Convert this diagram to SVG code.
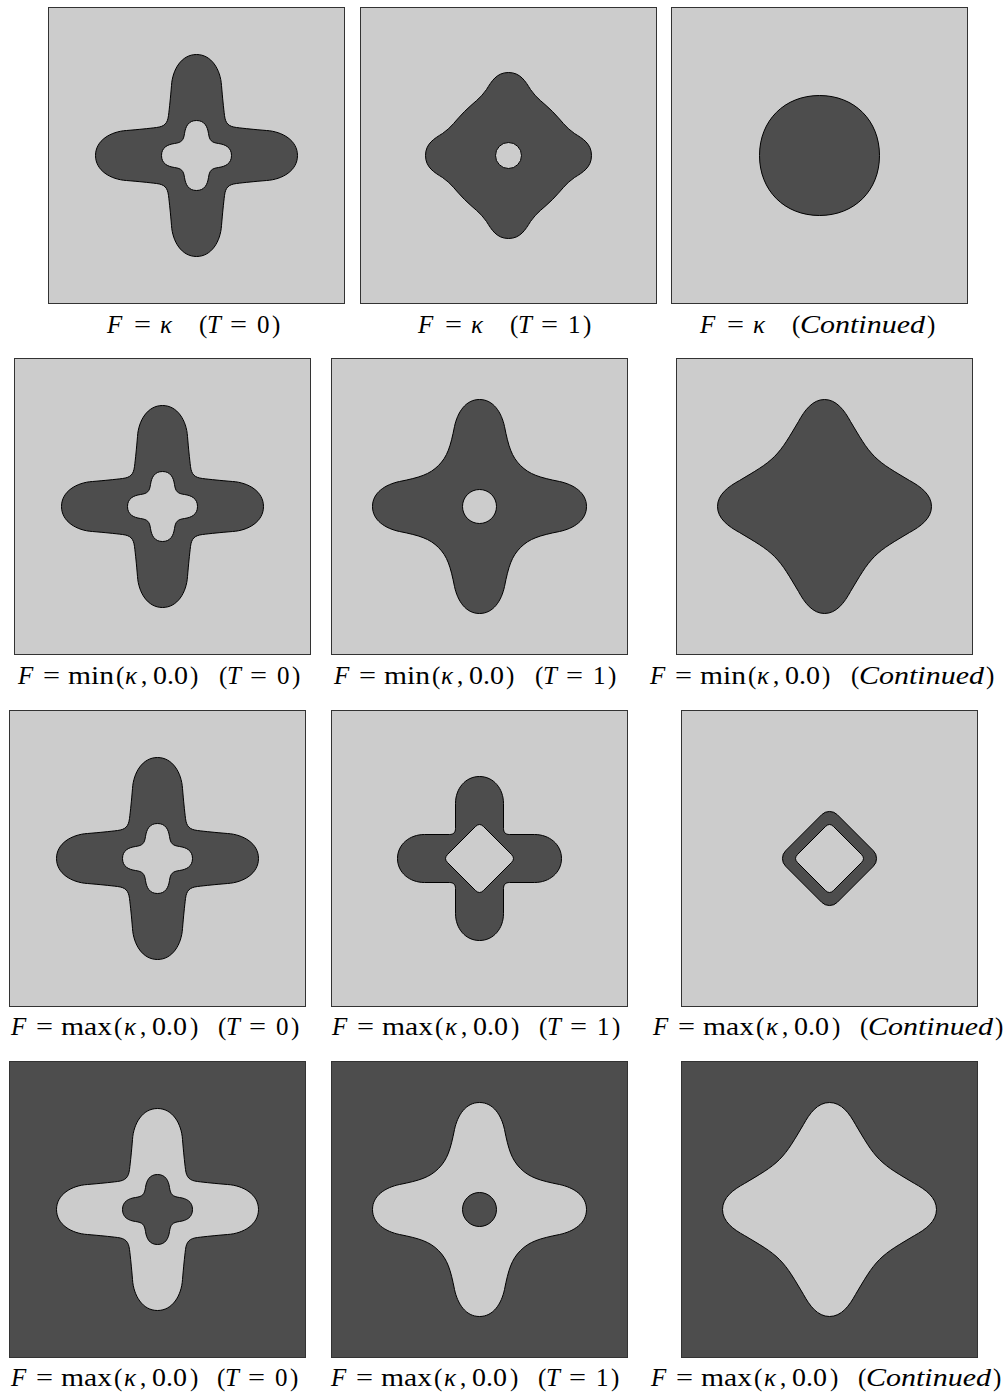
<svg xmlns="http://www.w3.org/2000/svg" width="1008" height="1395" viewBox="0 0 1008 1395">
<style>
.bg{fill:#ffffff}
.pl{fill:#cccccc;stroke:#333333;stroke-width:1}
.pd{fill:#4d4d4d;stroke:#333333;stroke-width:1}
.sd{fill:#4d4d4d;stroke:#000000;stroke-width:1;fill-rule:evenodd}
.sl{fill:#cccccc;stroke:#000000;stroke-width:1;fill-rule:evenodd}
.lab{font-family:"Liberation Serif","Times New Roman",serif;font-size:25px;fill:#000000}
.it{font-style:italic}
</style>
<defs>
<path id="shA" d="M 0,-101 C 15,-101 24,-86 25,-70 C 26,-58 27,-48 28,-40 C 29,-32 32,-29 40,-28 C 48,-27 58,-26 70,-25 C 86,-24 101,-15 101,0 C 101,15 86,24 70,25 C 58,26 48,27 40,28 C 32,29 29,32 28,40 C 27,48 26,58 25,70 C 24,86 15,101 0,101 C -15,101 -24,86 -25,70 C -26,58 -27,48 -28,40 C -29,32 -32,29 -40,28 C -48,27 -58,26 -70,25 C -86,24 -101,15 -101,0 C -101,-15 -86,-24 -70,-25 C -58,-26 -48,-27 -40,-28 C -32,-29 -29,-32 -28,-40 C -27,-48 -26,-58 -25,-70 C -24,-86 -15,-101 0,-101 Z M 0,-35 C 8,-35 11,-29 12,-22 C 13,-15 15,-13 22,-12 C 29,-11 35,-8 35,0 C 35,8 29,11 22,12 C 15,13 13,15 12,22 C 11,29 8,35 0,35 C -8,35 -11,29 -12,22 C -13,15 -15,13 -22,12 C -29,11 -35,8 -35,0 C -35,-8 -29,-11 -22,-12 C -15,-13 -13,-15 -12,-22 C -11,-29 -8,-35 0,-35 Z"/>
<path id="shB" d="M 0,-83 C 12,-83 17,-74 22,-66 C 28,-57 35,-53 44,-44 C 53,-35 57,-28 66,-22 C 74,-17 83,-12 83,0 C 83,12 74,17 66,22 C 57,28 53,35 44,44 C 35,53 28,57 22,66 C 17,74 12,83 0,83 C -12,83 -17,74 -22,66 C -28,57 -35,53 -44,44 C -53,35 -57,28 -66,22 C -74,17 -83,12 -83,0 C -83,-12 -74,-17 -66,-22 C -57,-28 -53,-35 -44,-44 C -35,-53 -28,-57 -22,-66 C -17,-74 -12,-83 0,-83 Z M 0,-13 A 13 13 0 1 0 0,13 A 13 13 0 1 0 0,-13 Z"/>
<path id="shC" d="M 0,-60 C 35,-60 60,-35 60,0 C 60,35 35,60 0,60 C -35,60 -60,35 -60,0 C -60,-35 -35,-60 0,-60 Z"/>
<path id="shD" d="M 0,-107 C 14,-107 22,-94 25,-80 C 29,-60 32,-50 41,-41 C 50,-32 60,-29 80,-25 C 94,-22 107,-14 107,0 C 107,14 94,22 80,25 C 60,29 50,32 41,41 C 32,50 29,60 25,80 C 22,94 14,107 0,107 C -14,107 -22,94 -25,80 C -29,60 -32,50 -41,41 C -50,32 -60,29 -80,25 C -94,22 -107,14 -107,0 C -107,-14 -94,-22 -80,-25 C -60,-29 -50,-32 -41,-41 C -32,-50 -29,-60 -25,-80 C -22,-94 -14,-107 0,-107 Z M 0,-17 A 17 17 0 1 0 0,17 A 17 17 0 1 0 0,-17 Z"/>
<path id="shE" d="M 0,-107 C 12,-107 20,-96 26,-85 C 35,-70 41,-59 50,-50 C 59,-41 70,-35 85,-26 C 96,-20 107,-12 107,0 C 107,12 96,20 85,26 C 70,35 59,41 50,50 C 41,59 35,70 26,85 C 20,96 12,107 0,107 C -12,107 -20,96 -26,85 C -35,70 -41,59 -50,50 C -59,41 -70,35 -85,26 C -96,20 -107,12 -107,0 C -107,-12 -96,-20 -85,-26 C -70,-35 -59,-41 -50,-50 C -41,-59 -35,-70 -26,-85 C -20,-96 -12,-107 0,-107 Z"/>
<path id="shF" d="M 0,-82 C 14,-82 24,-70 24,-55 L 24,-30 C 24,-26 26,-24 30,-24 L 55,-24 C 70,-24 82,-14 82,0 C 82,14 70,24 55,24 L 30,24 C 26,24 24,26 24,30 L 24,55 C 24,70 14,82 0,82 C -14,82 -24,70 -24,55 L -24,30 C -24,26 -26,24 -30,24 L -55,24 C -70,24 -82,14 -82,0 C -82,-14 -70,-24 -55,-24 L -30,-24 C -26,-24 -24,-26 -24,-30 L -24,-55 C -24,-70 -14,-82 0,-82 Z M -4,-32 Q 0,-36 4,-32 L 32,-4 Q 36,0 32,4 L 4,32 Q 0,36 -4,32 L -32,4 Q -36,0 -32,-4 Z"/>
<path id="shG" d="M -7.8,-43.8 A 11 11 0 0 1 7.8,-43.8 L 43.8,-7.8 A 11 11 0 0 1 43.8,7.8 L 7.8,43.8 A 11 11 0 0 1 -7.8,43.8 L -43.8,7.8 A 11 11 0 0 1 -43.8,-7.8 Z M -4,-32 Q 0,-36 4,-32 L 32,-4 Q 36,0 32,4 L 4,32 Q 0,36 -4,32 L -32,4 Q -36,0 -32,-4 Z"/>
</defs>
<rect class="bg" x="0" y="0" width="1008" height="1395"/>

<g id="r1p1">
<rect class="pl" x="48.5" y="7.5" width="296" height="296"/>
<use href="#shA" class="sd" transform="translate(196.5,155.5)"/>
<text class="lab" y="333"><tspan class="it" x="107">F</tspan><tspan x="134" textLength="17" lengthAdjust="spacingAndGlyphs">=</tspan><tspan class="it" x="160">κ</tspan><tspan x="199">(</tspan><tspan class="it" x="207">T</tspan><tspan x="230" textLength="17" lengthAdjust="spacingAndGlyphs">=</tspan><tspan x="257">0</tspan><tspan x="272">)</tspan></text>
</g>
<g id="r1p2">
<rect class="pl" x="360.5" y="7.5" width="296" height="296"/>
<use href="#shB" class="sd" transform="translate(508.5,155.5)"/>
<text class="lab" y="333"><tspan class="it" x="418">F</tspan><tspan x="445" textLength="17" lengthAdjust="spacingAndGlyphs">=</tspan><tspan class="it" x="471">κ</tspan><tspan x="510">(</tspan><tspan class="it" x="518">T</tspan><tspan x="541" textLength="17" lengthAdjust="spacingAndGlyphs">=</tspan><tspan x="568">1</tspan><tspan x="583">)</tspan></text>
</g>
<g id="r1p3">
<rect class="pl" x="671.5" y="7.5" width="296" height="296"/>
<use href="#shC" class="sd" transform="translate(819.5,155.5)"/>
<text class="lab" y="333"><tspan class="it" x="700">F</tspan><tspan x="727" textLength="17" lengthAdjust="spacingAndGlyphs">=</tspan><tspan class="it" x="753">κ</tspan><tspan x="792">(</tspan><tspan class="it" x="800" textLength="125" lengthAdjust="spacingAndGlyphs">Continued</tspan><tspan x="927">)</tspan></text>
</g>

<g id="r2p1">
<rect class="pl" x="14.5" y="358.5" width="296" height="296"/>
<use href="#shA" class="sd" transform="translate(162.5,506.5)"/>
<text class="lab" y="684"><tspan class="it" x="18">F</tspan><tspan x="43" textLength="17" lengthAdjust="spacingAndGlyphs">=</tspan><tspan x="68" textLength="46" lengthAdjust="spacingAndGlyphs">min</tspan><tspan x="116">(</tspan><tspan class="it" x="125">κ</tspan><tspan x="141">,</tspan><tspan x="153" textLength="35" lengthAdjust="spacingAndGlyphs">0.0</tspan><tspan x="190">)</tspan><tspan x="219">(</tspan><tspan class="it" x="227">T</tspan><tspan x="250" textLength="17" lengthAdjust="spacingAndGlyphs">=</tspan><tspan x="277">0</tspan><tspan x="292">)</tspan></text>
</g>
<g id="r2p2">
<rect class="pl" x="331.5" y="358.5" width="296" height="296"/>
<use href="#shD" class="sd" transform="translate(479.5,506.5)"/>
<text class="lab" y="684"><tspan class="it" x="334">F</tspan><tspan x="359" textLength="17" lengthAdjust="spacingAndGlyphs">=</tspan><tspan x="384" textLength="46" lengthAdjust="spacingAndGlyphs">min</tspan><tspan x="432">(</tspan><tspan class="it" x="441">κ</tspan><tspan x="457">,</tspan><tspan x="469" textLength="35" lengthAdjust="spacingAndGlyphs">0.0</tspan><tspan x="506">)</tspan><tspan x="535">(</tspan><tspan class="it" x="543">T</tspan><tspan x="566" textLength="17" lengthAdjust="spacingAndGlyphs">=</tspan><tspan x="593">1</tspan><tspan x="608">)</tspan></text>
</g>
<g id="r2p3">
<rect class="pl" x="676.5" y="358.5" width="296" height="296"/>
<use href="#shE" class="sd" transform="translate(824.5,506.5)"/>
<text class="lab" y="684"><tspan class="it" x="650">F</tspan><tspan x="675" textLength="17" lengthAdjust="spacingAndGlyphs">=</tspan><tspan x="700" textLength="46" lengthAdjust="spacingAndGlyphs">min</tspan><tspan x="748">(</tspan><tspan class="it" x="757">κ</tspan><tspan x="773">,</tspan><tspan x="785" textLength="35" lengthAdjust="spacingAndGlyphs">0.0</tspan><tspan x="822">)</tspan><tspan x="851">(</tspan><tspan class="it" x="859" textLength="125" lengthAdjust="spacingAndGlyphs">Continued</tspan><tspan x="986">)</tspan></text>
</g>

<g id="r3p1">
<rect class="pl" x="9.5" y="710.5" width="296" height="296"/>
<use href="#shA" class="sd" transform="translate(157.5,858.5)"/>
<text class="lab" y="1035"><tspan class="it" x="11">F</tspan><tspan x="36" textLength="17" lengthAdjust="spacingAndGlyphs">=</tspan><tspan x="61" textLength="51" lengthAdjust="spacingAndGlyphs">max</tspan><tspan x="114">(</tspan><tspan class="it" x="124">κ</tspan><tspan x="140">,</tspan><tspan x="152" textLength="35" lengthAdjust="spacingAndGlyphs">0.0</tspan><tspan x="190">)</tspan><tspan x="218">(</tspan><tspan class="it" x="226">T</tspan><tspan x="249" textLength="17" lengthAdjust="spacingAndGlyphs">=</tspan><tspan x="276">0</tspan><tspan x="291">)</tspan></text>
</g>
<g id="r3p2">
<rect class="pl" x="331.5" y="710.5" width="296" height="296"/>
<use href="#shF" class="sd" transform="translate(479.5,858.5)"/>
<text class="lab" y="1035"><tspan class="it" x="332">F</tspan><tspan x="357" textLength="17" lengthAdjust="spacingAndGlyphs">=</tspan><tspan x="382" textLength="51" lengthAdjust="spacingAndGlyphs">max</tspan><tspan x="435">(</tspan><tspan class="it" x="445">κ</tspan><tspan x="461">,</tspan><tspan x="473" textLength="35" lengthAdjust="spacingAndGlyphs">0.0</tspan><tspan x="511">)</tspan><tspan x="539">(</tspan><tspan class="it" x="547">T</tspan><tspan x="570" textLength="17" lengthAdjust="spacingAndGlyphs">=</tspan><tspan x="597">1</tspan><tspan x="612">)</tspan></text>
</g>
<g id="r3p3">
<rect class="pl" x="681.5" y="710.5" width="296" height="296"/>
<use href="#shG" class="sd" transform="translate(829.5,858.5)"/>
<text class="lab" y="1035"><tspan class="it" x="653">F</tspan><tspan x="678" textLength="17" lengthAdjust="spacingAndGlyphs">=</tspan><tspan x="703" textLength="51" lengthAdjust="spacingAndGlyphs">max</tspan><tspan x="756">(</tspan><tspan class="it" x="766">κ</tspan><tspan x="782">,</tspan><tspan x="794" textLength="35" lengthAdjust="spacingAndGlyphs">0.0</tspan><tspan x="832">)</tspan><tspan x="860">(</tspan><tspan class="it" x="868" textLength="125" lengthAdjust="spacingAndGlyphs">Continued</tspan><tspan x="995">)</tspan></text>
</g>

<g id="r4p1">
<rect class="pd" x="9.5" y="1061.5" width="296" height="296"/>
<use href="#shA" class="sl" transform="translate(157.5,1209.5)"/>
<text class="lab" y="1386"><tspan class="it" x="11">F</tspan><tspan x="36" textLength="17" lengthAdjust="spacingAndGlyphs">=</tspan><tspan x="61" textLength="51" lengthAdjust="spacingAndGlyphs">max</tspan><tspan x="114">(</tspan><tspan class="it" x="124">κ</tspan><tspan x="140">,</tspan><tspan x="152" textLength="35" lengthAdjust="spacingAndGlyphs">0.0</tspan><tspan x="190">)</tspan><tspan x="217">(</tspan><tspan class="it" x="225">T</tspan><tspan x="248" textLength="17" lengthAdjust="spacingAndGlyphs">=</tspan><tspan x="275">0</tspan><tspan x="290">)</tspan></text>
</g>
<g id="r4p2">
<rect class="pd" x="331.5" y="1061.5" width="296" height="296"/>
<use href="#shD" class="sl" transform="translate(479.5,1209.5)"/>
<text class="lab" y="1386"><tspan class="it" x="331">F</tspan><tspan x="356" textLength="17" lengthAdjust="spacingAndGlyphs">=</tspan><tspan x="381" textLength="51" lengthAdjust="spacingAndGlyphs">max</tspan><tspan x="434">(</tspan><tspan class="it" x="444">κ</tspan><tspan x="460">,</tspan><tspan x="472" textLength="35" lengthAdjust="spacingAndGlyphs">0.0</tspan><tspan x="510">)</tspan><tspan x="538">(</tspan><tspan class="it" x="546">T</tspan><tspan x="569" textLength="17" lengthAdjust="spacingAndGlyphs">=</tspan><tspan x="596">1</tspan><tspan x="611">)</tspan></text>
</g>
<g id="r4p3">
<rect class="pd" x="681.5" y="1061.5" width="296" height="296"/>
<use href="#shE" class="sl" transform="translate(829.5,1209.5)"/>
<text class="lab" y="1386"><tspan class="it" x="651">F</tspan><tspan x="676" textLength="17" lengthAdjust="spacingAndGlyphs">=</tspan><tspan x="701" textLength="51" lengthAdjust="spacingAndGlyphs">max</tspan><tspan x="754">(</tspan><tspan class="it" x="764">κ</tspan><tspan x="780">,</tspan><tspan x="792" textLength="35" lengthAdjust="spacingAndGlyphs">0.0</tspan><tspan x="830">)</tspan><tspan x="858">(</tspan><tspan class="it" x="866" textLength="125" lengthAdjust="spacingAndGlyphs">Continued</tspan><tspan x="993">)</tspan></text>
</g>
<g id="connectors"/>
</svg>
